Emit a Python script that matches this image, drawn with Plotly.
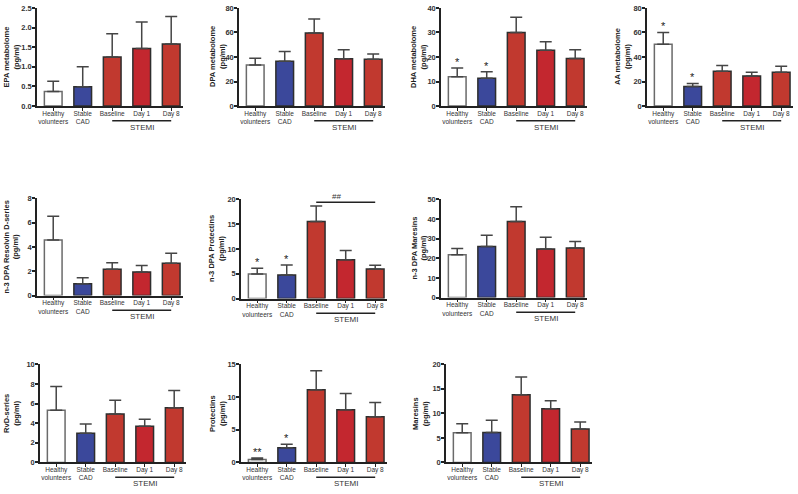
import plotly.graph_objects as go

W, H = 798, 494

groups = ["Healthy<br>volunteers", "Stable<br>CAD", "Baseline", "Day 1", "Day 8"]
bar_colors = ["#ffffff", "#3b489b", "#c1392f", "#c3272f", "#c1392f"]
bar_lines = ["#6a6a6a", "#2e2e2e", "#2e2e2e", "#2e2e2e", "#2e2e2e"]

titles = [
    "EPA metabolome<br>(pg/ml)",
    "DPA metabolome<br>(pg/ml)",
    "DHA metabolome<br>(pg/ml)",
    "AA metabolome<br>(pg/ml)",
    "n-3 DPA Resolvin D-series<br>(pg/ml)",
    "n-3 DPA Protectins<br>(pg/ml)",
    "n-3 DPA Maresins<br>(pg/ml)",
    "RvD-series<br>(pg/ml)",
    "Protectins<br>(pg/ml)",
    "Maresins<br>(pg/ml)",
]

epa_mean = [0.37, 0.49, 1.25, 1.47, 1.58]
epa_err = [0.26, 0.51, 0.59, 0.67, 0.70]
dpa_mean = [33.5, 36.5, 59.5, 38.5, 38.2]
dpa_err = [5.5, 8.0, 11.5, 7.5, 4.3]
dha_mean = [12.0, 11.3, 30.0, 22.8, 19.4]
dha_err = [3.5, 2.7, 6.2, 3.4, 3.6]
aa_mean = [50.5, 16.0, 28.5, 24.5, 27.5]
aa_err = [9.5, 2.5, 4.5, 3.0, 5.0]
rvd_dpa_mean = [4.58, 0.97, 2.16, 1.94, 2.67]
rvd_dpa_err = [1.94, 0.49, 0.54, 0.54, 0.81]
pd_dpa_mean = [4.97, 4.77, 15.56, 7.8, 5.96]
pd_dpa_err = [1.13, 1.98, 3.11, 1.87, 0.73]
mar_dpa_mean = [21.8, 26.0, 38.7, 24.7, 25.2]
mar_dpa_err = [3.2, 5.7, 7.6, 6.0, 3.3]
rvd_mean = [5.33, 2.97, 4.93, 3.70, 5.57]
rvd_err = [2.40, 0.96, 1.40, 0.70, 1.76]
pd_mean = [0.45, 2.25, 11.1, 8.05, 7.0]
pd_err = [0.25, 0.55, 2.9, 2.5, 2.15]
mar_mean = [6.07, 6.13, 13.8, 10.93, 6.8]
mar_err = [1.8, 2.47, 3.6, 1.67, 1.47]

y_max = [2.5, 80, 40, 80, 8, 20, 50, 10, 15, 20]
y_dtick = [0.5, 20, 10, 20, 2, 5, 10, 2, 5, 5]
y_fmt = [".1f", "d", "d", "d", "d", "d", "d", "d", "d", "d"]

# significance marks: (panel, group index, text)
stars = [
    (2, 0, "*"), (2, 1, "*"),
    (3, 0, "*"), (3, 1, "*"),
    (5, 0, "*"), (5, 1, "*"),
    (8, 0, "**"), (8, 1, "*"),
]
hash_panel = 5
hash_text = "##"
hash_level = 19.4

means = [epa_mean, dpa_mean, dha_mean, aa_mean, rvd_dpa_mean, pd_dpa_mean,
         mar_dpa_mean, rvd_mean, pd_mean, mar_mean]
errs = [epa_err, dpa_err, dha_err, aa_err, rvd_dpa_err, pd_dpa_err,
        mar_dpa_err, rvd_err, pd_err, mar_err]

# layout (pixels): y-axis x position, plot top, plot zero line, title x
panel_px = [
    (37, 4, 104, 11.5),
    (239, 4, 104, 217),
    (441, 4, 104, 418),
    (647, 4, 104, 622),
    (37, 198, 297, 11.5),
    (241, 199, 300, 217),
    (441, 199, 299, 419),
    (40, 367, 467, 11.5),
    (241, 367, 467, 217.5),
    (446, 367, 467, 420.5),
]
PW = 146
XR = [-0.55, 4.4]

FONT = "Liberation Sans, Arial, sans-serif"
fig = go.Figure()
shapes = []
annotations = []
layout = {}

for i in range(10):
    n = "" if i == 0 else str(i + 1)
    xa, ya = "x" + n, "y" + n
    x0, ytop, yzero, tx = panel_px[i]
    fig.add_trace(go.Bar(
        x=groups, y=means[i], xaxis=xa, yaxis=ya,
        marker=dict(color=bar_colors, line=dict(color=bar_lines, width=1.5)),
        width=0.6,
        error_y=dict(type="data", array=errs[i], arrayminus=[0] * 5, symmetric=False,
                     color="#454545", thickness=1.5, width=6),
        showlegend=False,
    ))
    layout["xaxis" + n] = dict(
        domain=[x0 / W, (x0 + PW) / W], anchor=ya, range=XR,
        type="category", showline=True, linecolor="#222", linewidth=1.5,
        ticks="outside", ticklen=3, tickwidth=1, tickcolor="#222",
        ticklabelstandoff=-3, ticklabeloverflow="allow",
        tickfont=dict(size=6.5, color="#333", family=FONT),
        showgrid=False, zeroline=False, fixedrange=True,
    )
    layout["yaxis" + n] = dict(
        domain=[1 - yzero / H, 1 - ytop / H], anchor=xa, range=[0, y_max[i]],
        dtick=y_dtick[i], tickformat=y_fmt[i], showline=True, linecolor="#222",
        linewidth=1.5, ticks="outside", ticklen=3, tickwidth=1.5, tickcolor="#222",
        ticklabelstandoff=-1, ticklabeloverflow="allow",
        tickfont=dict(size=7.5, color="#333", family=FONT, weight="bold"),
        showgrid=False, zeroline=False, fixedrange=True,
    )
    # STEMI bracket
    shapes.append(dict(type="line", xref=xa, yref="paper", x0=2, x1=4,
                       y0=1 - (yzero + 15) / H, y1=1 - (yzero + 15) / H,
                       line=dict(color="#222", width=1.5)))
    annotations.append(dict(xref=xa, yref="paper", x=3, y=1 - (yzero + 21.5) / H,
                            text="STEMI", showarrow=False, yanchor="middle",
                            font=dict(size=8, color="#333", family=FONT)))
    # y-axis title
    annotations.append(dict(xref="paper", yref="paper", x=tx / W,
                            y=1 - (ytop + yzero) / 2 / H, text=titles[i],
                            textangle=-90, showarrow=False, xanchor="center",
                            yanchor="middle",
                            font=dict(size=7.5, color="#222", family=FONT, weight="bold")))

for p, g, t in stars:
    n = "" if p == 0 else str(p + 1)
    annotations.append(dict(xref="x" + n, yref="y" + n, x=groups[g],
                            y=means[p][g] + errs[p][g], text=t, showarrow=False,
                            yanchor="bottom", yshift=-2,
                            font=dict(size=11, color="#222", family=FONT)))

n = str(hash_panel + 1)
shapes.append(dict(type="line", xref="x" + n, yref="y" + n, x0=2, x1=4,
                   y0=hash_level, y1=hash_level, line=dict(color="#222", width=1.5)))
annotations.append(dict(xref="x" + n, yref="y" + n, x=2.7, y=hash_level,
                        text=hash_text, showarrow=False, yanchor="bottom", yshift=-1,
                        font=dict(size=8, color="#333", family=FONT)))

fig.update_layout(
    width=W, height=H, margin=dict(l=0, r=0, t=0, b=0),
    paper_bgcolor="white", plot_bgcolor="white",
    shapes=shapes, annotations=annotations, bargap=0.4,
    **layout,
)
fig.write_html("out.html", config={"displayModeBar": False},
               post_script="document.body.style.margin='0';")
